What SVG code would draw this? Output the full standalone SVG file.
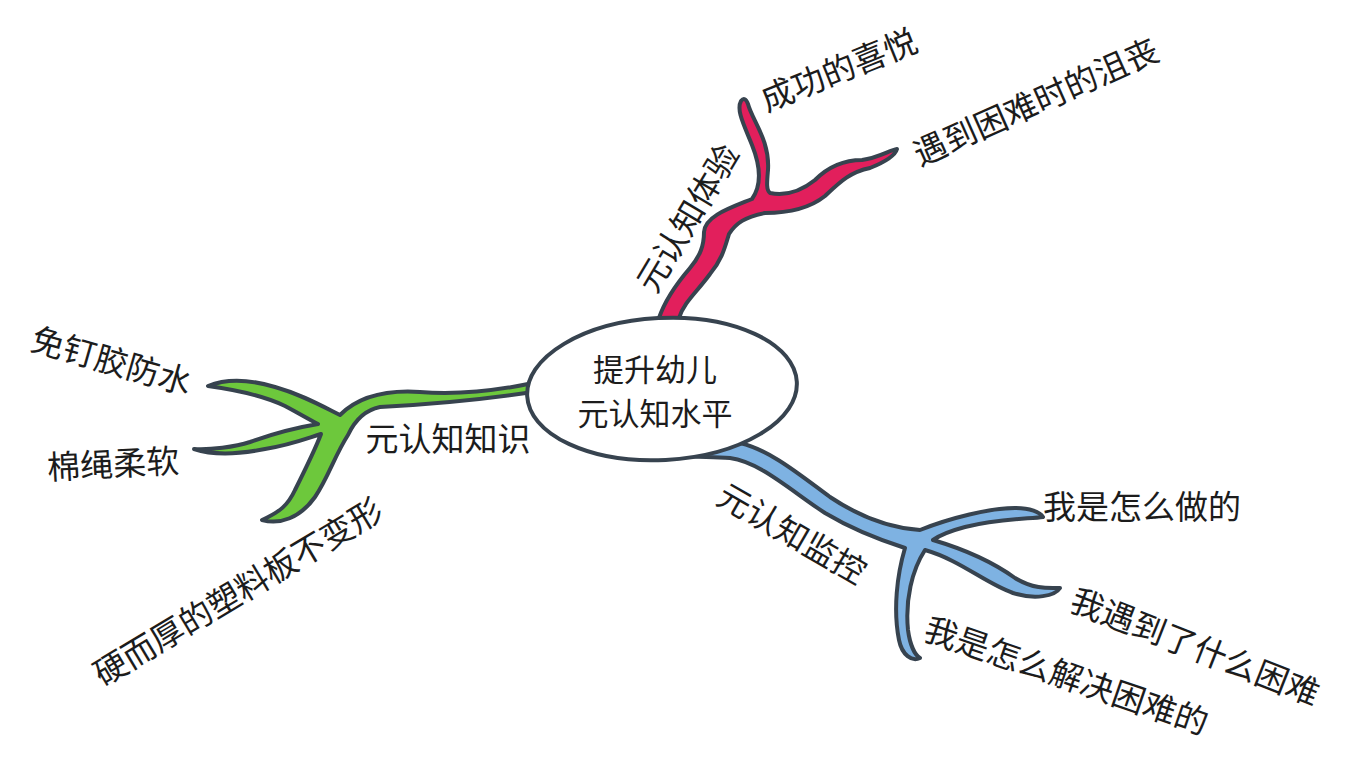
<svg xmlns="http://www.w3.org/2000/svg" width="1359" height="778" viewBox="0 0 1359 778">
<style>
.br{stroke:#37434f;stroke-width:4;stroke-linejoin:round}
.t{font-family:"Noto Sans CJK SC","Noto Sans",sans-serif;font-size:33px;fill:#1c1c1c;text-anchor:middle;dominant-baseline:central}
.c{font-size:31px}
</style>
<rect width="1359" height="778" fill="#ffffff"/>
<g id="connectors">
<path id="branch-red" class="br" fill="#e21f5c" d="M 659 318 C 665 300, 678 282, 690 268 C 700 256, 704 246, 704 232 C 705 216, 730 208, 752 199 C 762 185, 760 165, 752 145 C 744 125, 736 110, 741 101 Q 745 96, 748 104 C 752 120, 770 140, 768 170 C 767 182, 766 190, 770 193 C 785 196, 800 192, 815 180 C 830 165, 845 160, 862 160 C 878 158, 890 150, 897 149 C 895 156, 885 162, 870 168 C 850 172, 840 182, 825 196 C 810 208, 790 213, 765 213 C 745 217, 736 223, 729 234 C 725 247, 722 260, 710 274 C 697 292, 684 302, 679 318 Z"/>
<path id="branch-green" class="br" fill="#6dc83c" d="M 533 383 C 500 390, 460 395, 420 392 C 390 390, 360 395, 340 415 C 320 405, 300 394, 275 387 C 255 381, 230 377, 208 386 C 230 389, 260 394, 285 406 C 300 414, 310 420, 318 424 C 300 427, 275 433, 250 442 C 235 447, 210 450, 194 449 C 215 456, 240 454, 265 449 C 290 445, 305 439, 321 434 C 315 450, 305 470, 295 490 C 288 505, 280 512, 262 520 C 280 525, 300 518, 315 497 C 328 478, 335 455, 348 435 C 355 420, 365 410, 380 407 C 420 405, 480 400, 533 392 Z"/>
<path id="branch-blue" class="br" fill="#7eb2e2" d="M 680 455 C 700 452, 720 440, 740 443 C 770 450, 800 475, 830 497 C 860 517, 890 528, 920 530 C 950 518, 990 508, 1015 508 C 1030 508, 1040 512, 1043 517 C 1030 519, 1000 518, 965 527 C 950 531, 940 535, 933 540 C 960 548, 990 560, 1015 578 C 1035 590, 1050 588, 1060 588 C 1055 596, 1035 600, 1013 593 C 985 583, 960 560, 925 550 C 912 570, 905 600, 908 630 C 910 645, 915 655, 920 658 C 912 662, 902 655, 899 640 C 893 610, 897 575, 905 548 C 880 540, 850 528, 825 513 C 790 490, 760 462, 730 458 C 710 456, 695 458, 680 455 Z"/>
</g>
<g id="center">
<ellipse cx="662" cy="389" rx="135" ry="71" transform="rotate(-3 662 389)" fill="#ffffff" stroke="#37434f" stroke-width="4"/>
<text class="t c" x="655" y="367">提升幼儿</text>
<text class="t c" x="655" y="411">元认知水平</text>
</g>
<g id="n-tiyan"><text class="t" transform="translate(686 217) rotate(-59)">元认知体验</text></g>
<g id="n-xiyue"><text class="t" transform="translate(838 68) rotate(-22)">成功的喜悦</text></g>
<g id="n-jusang"><text class="t" transform="translate(1035 100) rotate(-24)">遇到困难时的沮丧</text></g>
<g id="n-zhishi"><text class="t" x="448" y="437">元认知知识</text></g>
<g id="n-fangshui"><text class="t" transform="translate(112 359) rotate(16)">免钉胶防水</text></g>
<g id="n-roruan"><text class="t" transform="translate(113 462) rotate(-3)">棉绳柔软</text></g>
<g id="n-bianxing"><text class="t" transform="translate(237 590) rotate(-31)">硬而厚的塑料板不变形</text></g>
<g id="n-jiankong"><text class="t" transform="translate(793 532) rotate(30)">元认知监控</text></g>
<g id="n-zuo"><text class="t" x="1142" y="505">我是怎么做的</text></g>
<g id="n-kunnan"><text class="t" transform="translate(1196 645) rotate(21.5)">我遇到了什么困难</text></g>
<g id="n-jiejue"><text class="t" transform="translate(1067 674) rotate(19)">我是怎么解决困难的</text></g>
</svg>
